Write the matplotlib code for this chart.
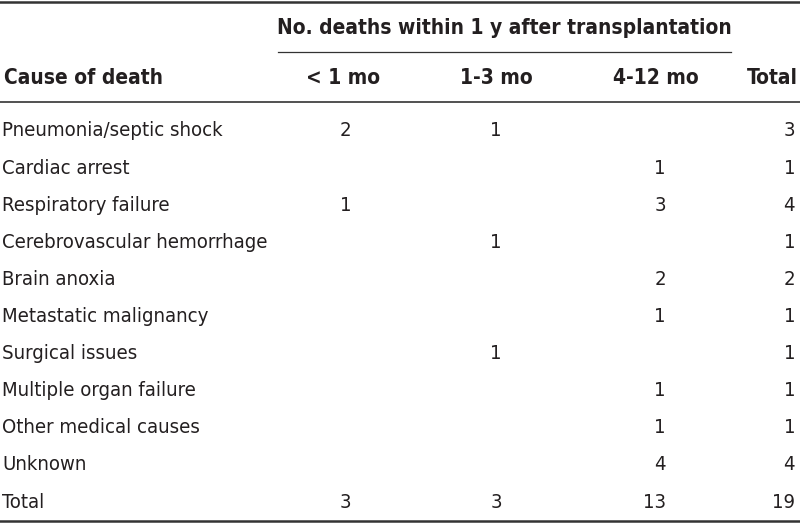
import matplotlib.pyplot as plt

causes = ["Pneumonia/septic shock", "Cardiac arrest", "Respiratory failure",
          "Cerebrovascular hemorrhage", "Brain anoxia", "Metastatic malignancy",
          "Surgical issues", "Multiple organ failure", "Other medical causes",
          "Unknown", "Total"]
lt1mo = ["2", "", "1", "", "", "", "", "", "", "", "3"]
m1_3 = ["1", "", "", "1", "", "", "1", "", "", "", "3"]
m4_12 = ["", "1", "3", "", "2", "1", "", "1", "1", "4", "13"]
total = ["3", "1", "4", "1", "2", "1", "1", "1", "1", "4", "19"]
col_heads = ["< 1 mo", "1-3 mo", "4-12 mo"]
spanner = "No. deaths within 1 y after transplantation"

fam = ["Liberation Sans Narrow", "DejaVu Sans"]
ink = "#231f20"
fs_head = 15
fs_body = 14.6
st = "condensed"

fig = plt.figure(figsize=(8, 5.24), dpi=100)
ax = fig.add_axes([0, 0, 1, 1])
ax.set_xlim(0, 800)
ax.set_ylim(524, 0)
ax.axis("off")

# rules
ax.plot([0, 800], [1.5, 1.5], color="#333333", lw=1.8)
ax.plot([278, 731], [52, 52], color="#333333", lw=0.9)
ax.plot([0, 800], [102, 102], color="#333333", lw=1.2)
ax.plot([0, 800], [521, 521], color="#333333", lw=1.8)

# header
ax.text(504, 28, spanner, ha="center", va="center", fontsize=fs_head,
        fontweight="bold", family=fam, stretch=st, color=ink)
ax.text(4, 78, "Cause of death", ha="left", va="center", fontsize=fs_head,
        fontweight="bold", family=fam, stretch=st, color=ink)
head_x = [343, 496, 656]
for x, h in zip(head_x, col_heads):
    ax.text(x, 78, h, ha="center", va="center", fontsize=fs_head,
            fontweight="bold", family=fam, stretch=st, color=ink)
ax.text(798, 78, "Total", ha="right", va="center", fontsize=fs_head,
        fontweight="bold", family=fam, stretch=st, color=ink)

# body
num_x = [346, 497, 661]
for i, c in enumerate(causes):
    y = 131 + i * 37.1
    ax.text(2, y, c, ha="left", va="center", fontsize=fs_body, family=fam,
            stretch=st, color=ink)
    for x, col in zip(num_x, [lt1mo, m1_3, m4_12]):
        if col[i]:
            ax.text(x + 5, y, col[i], ha="right", va="center", fontsize=fs_body,
                    family=fam, stretch=st, color=ink)
    ax.text(795, y, total[i], ha="right", va="center", fontsize=fs_body,
            family=fam, stretch=st, color=ink)

fig.savefig("out.png", dpi=100)
